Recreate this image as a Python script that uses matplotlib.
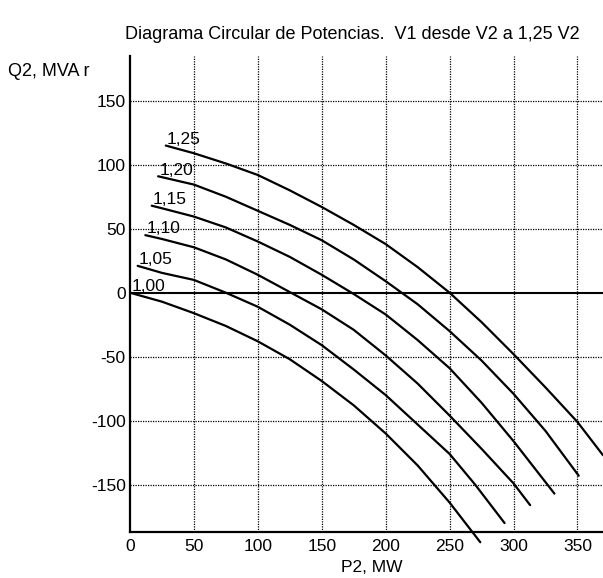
import matplotlib
matplotlib.use('Agg')
import matplotlib.pyplot as plt

# Receiving-end power circle curves, one per V1/V2 ratio
RATIO_LABELS = ['1,00', '1,05', '1,10', '1,15', '1,20', '1,25']

P_100 = [0, 25, 50, 75, 100, 125, 150, 175, 200, 225, 250, 274]
Q_100 = [0, -7, -16, -26, -38, -52, -69, -88, -110, -135, -164, -195]

P_105 = [6, 25, 50, 75, 100, 125, 150, 175, 200, 225, 250, 270, 293]
Q_105 = [21, 15.5, 10, 0, -11, -25, -41, -60, -80, -103, -126, -150, -180]

P_110 = [12, 25, 50, 75, 100, 125, 150, 175, 200, 225, 250, 275, 300, 313]
Q_110 = [45, 42, 35.5, 26, 14, 0.5, -13, -29, -49, -71, -96, -122, -149, -166]

P_115 = [17, 25, 50, 75, 100, 125, 150, 175, 200, 225, 250, 275, 300, 332]
Q_115 = [68, 66, 59.5, 51, 40, 28, 14, -1, -17, -37, -59, -86, -116, -157]

P_120 = [22, 50, 75, 100, 125, 150, 175, 200, 225, 250, 275, 300, 325, 351]
Q_120 = [91, 84.5, 75, 64, 53, 41, 26, 9, -9, -30, -53, -79, -108, -143]

P_125 = [28, 50, 75, 100, 125, 150, 175, 200, 225, 250, 275, 300, 325, 350, 370]
Q_125 = [115, 109, 101, 92, 80, 67, 53, 38, 20, 0, -23, -48, -74, -101, -127]

X_TICKS = [0, 50, 100, 150, 200, 250, 300, 350]
Y_TICKS = [-150, -100, -50, 0, 50, 100, 150]

plt.rcParams['font.family'] = ['Liberation Sans', 'DejaVu Sans']
plt.rcParams['axes.unicode_minus'] = False

fig = plt.figure(figsize=(6.03, 5.78), dpi=100)
fig.patch.set_facecolor('white')
ax = fig.add_axes([0.2156, 0.0796, 0.7844, 0.8235])

ax.set_xlim(0, 370)
ax.set_ylim(-187, 185)

# dotted grid, solid zero line
for x in X_TICKS[1:]:
    ax.axvline(x, color='black', lw=0.9, ls=(0, (1, 1)), zorder=1)
for y in Y_TICKS:
    if y == 0:
        ax.axhline(0, color='black', lw=1.5, zorder=2)
    else:
        ax.axhline(y, color='black', lw=0.9, ls=(0, (1, 1)), zorder=1)

curves = [(P_100, Q_100), (P_105, Q_105), (P_110, Q_110),
          (P_115, Q_115), (P_120, Q_120), (P_125, Q_125)]
for (p, q), lab in zip(curves, RATIO_LABELS):
    ax.plot(p, q, color='black', lw=1.6, clip_on=False, zorder=3,
            solid_capstyle='round')
    ax.text(p[0] + 1, q[0] - 1, lab, fontsize=12.5, ha='left', va='bottom')

for side in ['top', 'right']:
    ax.spines[side].set_visible(False)
for side in ['left', 'bottom']:
    ax.spines[side].set_linewidth(1.6)

ax.set_xticks(X_TICKS)
ax.set_yticks(Y_TICKS)
ax.tick_params(length=0, labelsize=12.5)
ax.tick_params(axis='x', pad=5)
ax.tick_params(axis='y', pad=3)

fig.text(0.584, 0.94, 'Diagrama Circular de Potencias.  V1 desde V2 a 1,25 V2',
         fontsize=13, ha='center', va='center')
fig.text(8 / 603, 1 - 72 / 578, 'Q2, MVA r', fontsize=13, ha='left', va='center')
fig.text(372 / 603, 0.019, 'P2, MW', fontsize=12.5, ha='center', va='center')

fig.savefig('out.png', dpi=100, facecolor='white')
